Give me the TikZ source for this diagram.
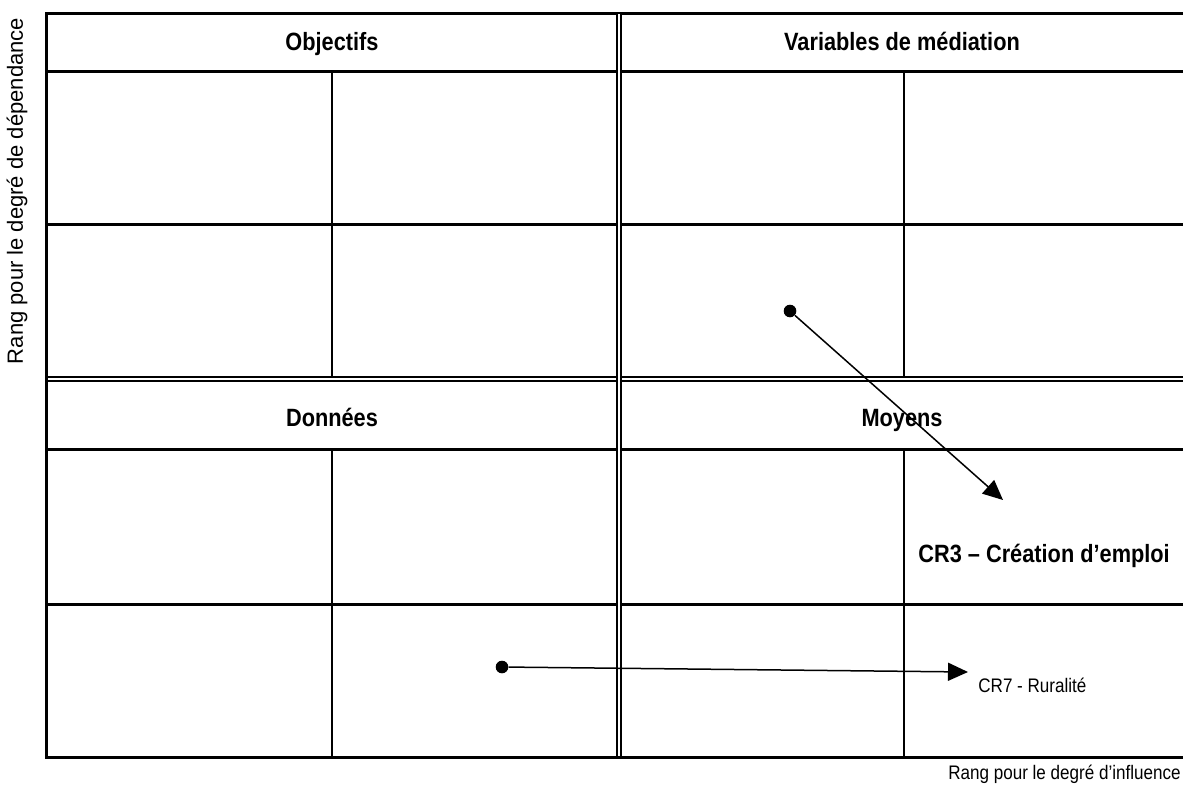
\documentclass[tikz,border=0pt]{standalone}
\usepackage{fontspec}
\setmainfont{Liberation Sans}
\newfontfamily\etroite[FakeStretch=0.87]{Liberation Sans}
\usepackage{tikz}
\usetikzlibrary{arrows.meta, positioning}

\begin{document}
\begin{tikzpicture}[
        x=0.5pt, y=-0.5pt,
        trait/.style={
            line width=1.5pt,
            line cap=rect,
            draw=black
        },
        cloison/.style={
            line width=1pt,
            draw=black
        },
        doubletrait/.style={
            draw=black,
            double=white,
            line width=1.1pt,
            double distance=0.9pt
        },
        entete/.style={
            font=\etroite\bfseries\fontsize{12.5}{14}\selectfont,
            text height=9pt,
            text depth=0pt,
            inner sep=0pt
        },
        critere/.style={
            font=\etroite\bfseries\fontsize{12.5}{14}\selectfont,
            inner sep=0pt
        },
        point/.style={
            circle,
            fill=black,
            inner sep=0pt,
            minimum size=6.3pt
        },
        fleche/.style={
            -{Triangle[length=10pt,width=9pt]},
            line width=0.75pt,
            draw=black
        },
        etiquette/.style={
            font=\etroite\fontsize{9.8}{12}\selectfont,
            inner sep=0pt
        }
    ]
        \useasboundingbox (0,0) rectangle (1183,787);

        % Horizontal lines of the matrix
        \foreach \y in {13,71,224,449,604,757}
            \draw[trait] (46,\y) -- (1183,\y);
        % Inner partitions of the four quadrants
        \foreach \x in {332,904} {
            \draw[cloison] (\x,71) -- (\x,377);
            \draw[cloison] (\x,449) -- (\x,757);
        }
        % Double separators between quadrants
        \draw[doubletrait] (46,379) -- (1183,379);
        \draw[doubletrait] (619,14) -- (619,756);
        \draw[trait] (46,13) -- (46,757);

        % Quadrant headers
        \node[entete] (hobj) at (332,41.5) {Objectifs};
        \node[entete] (hvar) at (902,41.5) {Variables de médiation};
        \node[entete] (hdon) at (332,417) {Données};
        \node[entete] (hmoy) at (902,417) {Moyens};

        % Axis labels
        \node[font=\fontsize{11}{13}\selectfont, rotate=90, inner sep=0pt] (axdep) at (17,191) {Rang pour le degré de dépendance};
        \node[etiquette, anchor=east] (axinf) at (1181,774) {Rang pour le degré d’influence};

        % Movements of the criteria
        \node[point] (p3) at (790,311) {};
        \coordinate (f3) at (1003,500);
        \node[critere, anchor=west] (cr3) at (918,556) {CR3 – Création d’emploi};
        \draw[fleche] (p3) -- (f3);

        \node[point] (p7) at (502,667) {};
        \coordinate (f7) at (968,672);
        \node[etiquette, anchor=west] (cr7) at (978,685) {CR7 - Ruralité};
        \draw[fleche] (p7) -- (f7);
    \end{tikzpicture}
\end{document}
